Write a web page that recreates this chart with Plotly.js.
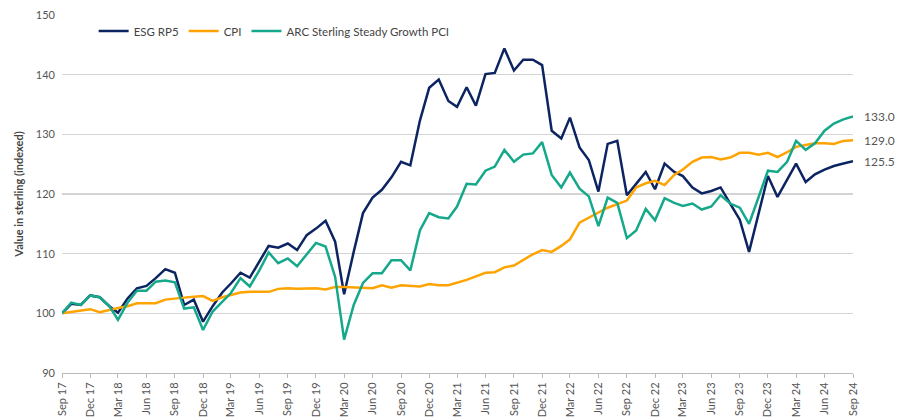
<!DOCTYPE html>
<html>
<head>
<meta charset="utf-8">
<script src="https://cdn.plot.ly/plotly-3.0.1.min.js"></script>
<style>html,body{margin:0;padding:0;background:#fff;}#chart{width:906px;height:419px;}</style>
</head>
<body>
<div id="chart"></div>
<script>
// Monthly, Sep 2017 .. Sep 2024
const startYear = 2017, startMonth = 9, nMonths = 85;
const months = [];
for (let i = 0; i < nMonths; i++) {
  const m = (startMonth - 1 + i) % 12 + 1;
  const y = startYear + Math.floor((startMonth - 1 + i) / 12);
  months.push(y + '-' + String(m).padStart(2, '0') + '-01');
}

const esgRP5 = [
  100.0, 101.6, 101.4, 103.0, 102.7, 101.2, 100.1, 102.5, 104.2, 104.6,
  105.9, 107.4, 106.8, 101.4, 102.3, 98.6, 101.2, 103.5, 105.0, 106.8,
  106.0, 108.7, 111.3, 111.0, 111.7, 110.6, 113.1, 114.2, 115.5, 112.0,
  103.2, 110.3, 116.8, 119.4, 120.7, 122.8, 125.4, 124.8, 132.3, 137.8,
  139.2, 135.6, 134.6, 137.9, 134.8, 140.1, 140.3, 144.4, 140.7, 142.5,
  142.5, 141.6, 130.6, 129.3, 132.8, 127.8, 125.7, 120.4, 128.4, 128.9,
  119.8, 121.7, 123.7, 120.8, 125.1, 123.7, 123.0, 121.1, 120.1, 120.5,
  121.1, 118.4, 115.7, 110.3, 116.7, 123.0, 119.5, 122.3, 125.1, 122.0,
  123.3, 124.1, 124.7, 125.1, 125.5
];
const cpi = [
  100.0, 100.2, 100.4, 100.7, 100.2, 100.6, 100.9, 101.2, 101.7, 101.7,
  101.7, 102.3, 102.5, 102.6, 102.8, 102.9, 102.1, 102.7, 103.1, 103.5,
  103.6, 103.6, 103.6, 104.1, 104.2, 104.1, 104.2, 104.2, 104.0, 104.4,
  104.4, 104.3, 104.2, 104.2, 104.7, 104.3, 104.7, 104.6, 104.5, 104.9,
  104.7, 104.7, 105.1, 105.6, 106.2, 106.8, 106.9, 107.7, 108.0, 108.9,
  109.9, 110.6, 110.3, 111.3, 112.4, 115.2, 116.1, 116.9, 117.7, 118.3,
  118.9, 121.1, 121.8, 122.2, 121.5, 123.2, 124.1, 125.4, 126.1, 126.2,
  125.8, 126.1, 126.9, 126.9, 126.6, 126.9, 126.2, 127.0, 127.9, 128.2,
  128.5, 128.5, 128.4, 128.9, 129.0
];
const arcSteady = [
  100.0, 101.8, 101.4, 103.0, 102.7, 101.2, 98.9, 101.8, 103.8, 103.8,
  105.3, 105.5, 105.2, 100.8, 101.0, 97.2, 100.3, 101.9, 103.4, 105.9,
  104.5, 107.2, 110.2, 108.4, 109.2, 107.9, 109.9, 111.8, 111.2, 106.1,
  95.6, 101.4, 105.1, 106.7, 106.7, 108.9, 108.9, 107.2, 113.9, 116.8,
  116.1, 115.9, 117.9, 121.7, 121.6, 123.9, 124.6, 127.4, 125.4, 126.6,
  126.8, 128.7, 123.2, 121.1, 123.6, 120.9, 119.6, 114.6, 119.4, 118.5,
  112.6, 113.9, 117.5, 115.6, 119.3, 118.5, 118.0, 118.4, 117.4, 117.9,
  119.8, 118.4, 117.7, 115.0, 119.5, 123.9, 123.7, 125.4, 128.9, 127.4,
  128.5, 130.6, 131.8, 132.5, 133.0
];

const seriesNames = ['ESG RP5', 'CPI', 'ARC Sterling Steady Growth PCI'];
const seriesColors = ['#0c2461', '#ffa300', '#15a88a'];
const seriesData = [esgRP5, cpi, arcSteady];
const endLabels = ['125.5', '129.0', '133.0'];
const yTicks = [90, 100, 110, 120, 130, 140, 150];

const font = 'Lato, "Open Sans", sans-serif';
const traces = seriesData.map((d, k) => ({
  type: 'scatter', mode: 'lines', name: seriesNames[k], x: months, y: d,
  line: {color: seriesColors[k], width: 2.5}
}));

const annotations = seriesData.map((d, k) => ({
  xref: 'paper', yref: 'y', x: 1.012, y: d[d.length - 1],
  text: endLabels[k], showarrow: false, xanchor: 'left', yanchor: 'middle',
  font: {family: font, size: 12, color: '#555'}
}));

const layout = {
  width: 906, height: 419,
  margin: {l: 62, r: 53, t: 15, b: 46},
  paper_bgcolor: '#fff', plot_bgcolor: '#fff',
  font: {family: font, size: 11, color: '#555'},
  showlegend: true,
  legend: {orientation: 'h', x: 0.04, y: 0.955, xanchor: 'left', yanchor: 'middle',
           font: {family: font, size: 11.5, color: '#444'}, bgcolor: 'rgba(0,0,0,0)',
           itemwidth: 30, tracegroupgap: 0},
  xaxis: {
    type: 'date', range: [months[0], months[months.length - 1]],
    tick0: months[0], dtick: 'M3', tickformat: '%b %y', tickangle: -90,
    showgrid: false, zeroline: false, showline: true, linecolor: '#bbb', linewidth: 1,
    ticks: 'outside', ticklen: 4, tickcolor: '#bbb',
    tickfont: {family: font, size: 11, color: '#555'}, automargin: false
  },
  yaxis: {
    range: [90, 150], tickvals: yTicks, ticktext: yTicks.map(String),
    showgrid: true, gridcolor: '#d4d4d4', gridwidth: 1.2, zeroline: false,
    showline: false, ticks: '', ticklabelstandoff: 6,
    tickfont: {family: font, size: 11, color: '#555'},
    title: {text: '<b>Value in sterling (indexed)</b>', standoff: 10,
            font: {family: font, size: 11, color: '#444'}},
    automargin: false
  },
  annotations: annotations
};

Plotly.newPlot('chart', traces, layout, {displayModeBar: false, staticPlot: true});
</script>
</body>
</html>
